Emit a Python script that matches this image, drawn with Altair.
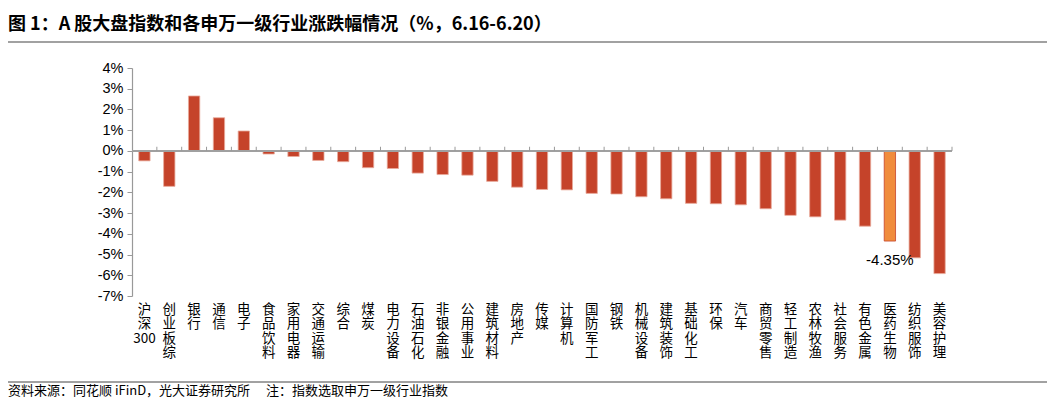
import altair as alt
import pandas as pd

categories = ["沪深300", "创业板综", "银行", "通信", "电子", "食品饮料", "家用电器", "交通运输",
              "综合", "煤炭", "电力设备", "石油石化", "非银金融", "公用事业", "建筑材料", "房地产",
              "传媒", "计算机", "国防军工", "钢铁", "机械设备", "建筑装饰", "基础化工", "环保",
              "汽车", "商贸零售", "轻工制造", "农林牧渔", "社会服务", "有色金属", "医药生物",
              "纺织服饰", "美容护理"]
values = [-0.48, -1.71, 2.65, 1.60, 0.96, -0.15, -0.27, -0.46,
          -0.52, -0.81, -0.85, -1.07, -1.14, -1.17, -1.47, -1.75,
          -1.86, -1.88, -2.05, -2.08, -2.21, -2.31, -2.53, -2.55,
          -2.60, -2.79, -3.11, -3.18, -3.34, -3.63, -4.35,
          -5.16, -5.92]
highlight = "医药生物"
highlight_label = "-4.35%"
y_ticks = [4, 3, 2, 1, 0, -1, -2, -3, -4, -5, -6, -7]
title_text = "图 1：A 股大盘指数和各申万一级行业涨跌幅情况（%，6.16-6.20）"
footer_text = "资料来源：同花顺 iFinD，光大证券研究所 \u3000注：指数选取申万一级行业指数"

df = pd.DataFrame({"cat": categories, "val": values})
df["hl"] = df["cat"] == highlight
df["lab"] = [highlight_label if c == highlight else "" for c in categories]
df["last"] = df["cat"] == categories[-1]

W, H = 820, 228
P_IN = 0.545
STEP = W / len(categories)
HALF_GAP = STEP * P_IN / 2

xscale = alt.Scale(domain=categories, paddingInner=P_IN, paddingOuter=P_IN / 2)
yscale = alt.Scale(domain=[-7, 4], nice=False)

label_expr = ("datum.label == '沪深300' ? ['沪', '深', '300'] : split(datum.label, '')")

x_axis = alt.Axis(labelExpr=label_expr, labelAngle=0,
                  labelBaseline="top", labelAlign="center",
                  labelLineHeight=14.5, labelFont="Noto Sans CJK SC",
                  labelFontSize=13.5, labelColor="#000000", labelPadding=6,
                  domain=False, ticks=False, labelOverlap=False,
                  labelBound=False, labelFlush=False, grid=False)
y_axis = alt.Axis(values=y_ticks, labelExpr="datum.value + '%'",
                  labelFont="Liberation Sans", labelFontSize=14.5,
                  labelColor="#000000", domainColor="#999999",
                  tickColor="#999999", tickSize=5, labelPadding=4,
                  labelOverlap=False, labelFlush=False,
                  grid=False, domainWidth=1.2)

x_enc = alt.X("cat:N", sort=categories, scale=xscale, title=None, axis=x_axis)
y_enc = alt.Y("val:Q", scale=yscale, title=None, axis=y_axis)

base = alt.Chart(df)

bars = base.mark_bar(strokeWidth=0.8).encode(
    x=x_enc, y=y_enc,
    color=alt.condition("datum.hl", alt.value("#F08C3C"), alt.value("#C5432A")),
    stroke=alt.condition("datum.hl", alt.value("#C5432A"), alt.value("#E9A99A")),
)

zero_line = base.mark_rule(color="#A0A0A0", strokeWidth=1.8).encode(
    x=alt.value(0), x2=alt.value(W),
    y=alt.Y(datum=0, scale=yscale, title=None, axis=y_axis),
)

ticks_left = base.transform_filter("datum.cat != '%s'" % categories[0]).mark_rule(
    color="#999999", strokeWidth=1, xOffset=-HALF_GAP
).encode(
    x=alt.X("cat:N", sort=categories, scale=xscale, bandPosition=0, title=None, axis=x_axis),
    y=alt.Y(datum=0, scale=yscale, title=None, axis=y_axis), y2=alt.datum(0.2),
)
tick_end = base.transform_filter("datum.last").mark_rule(
    color="#999999", strokeWidth=1, xOffset=HALF_GAP
).encode(
    x=alt.X("cat:N", sort=categories, scale=xscale, bandPosition=1, title=None, axis=x_axis),
    y=alt.Y(datum=0, scale=yscale, title=None, axis=y_axis), y2=alt.datum(0.2),
)

ann = base.transform_filter("datum.hl").mark_text(
    baseline="top", dy=12, font="Liberation Sans", fontSize=15, color="#000000"
).encode(x=x_enc, y=y_enc, text="lab:N")

title_df = pd.DataFrame({"t": [title_text]})
title = alt.Chart(title_df).mark_text(
    align="left", baseline="middle", font="Noto Sans CJK SC", fontSize=18,
    fontWeight="bold", color="#000000"
).encode(x=alt.value(-124), y=alt.value(-43), text="t:N")

footer_df = pd.DataFrame({"t": [footer_text]})
footer = alt.Chart(footer_df).mark_text(
    align="left", baseline="middle", font="Noto Sans CJK SC", fontSize=13,
    color="#000000"
).encode(x=alt.value(-124), y=alt.value(323), text="t:N")

line_top = alt.Chart(title_df).mark_rule(color="#444444", strokeWidth=1.2).encode(
    x=alt.value(-124), x2=alt.value(915), y=alt.value(-26))
line_bot = alt.Chart(footer_df).mark_rule(color="#444444", strokeWidth=1).encode(
    x=alt.value(-124), x2=alt.value(915), y=alt.value(314))

chart = alt.layer(bars, zero_line, ticks_left, tick_end, ann, title, footer,
                  line_top, line_bot).properties(
    width=W, height=H,
    autosize=alt.AutoSizeParams(type="none"),
    padding={"left": 124, "top": 60, "right": 95, "bottom": 106},
).configure_view(stroke=None).configure_axisY(labelOverlap=False)

chart.save("out.html", embed_options={"renderer": "svg", "actions": False})
